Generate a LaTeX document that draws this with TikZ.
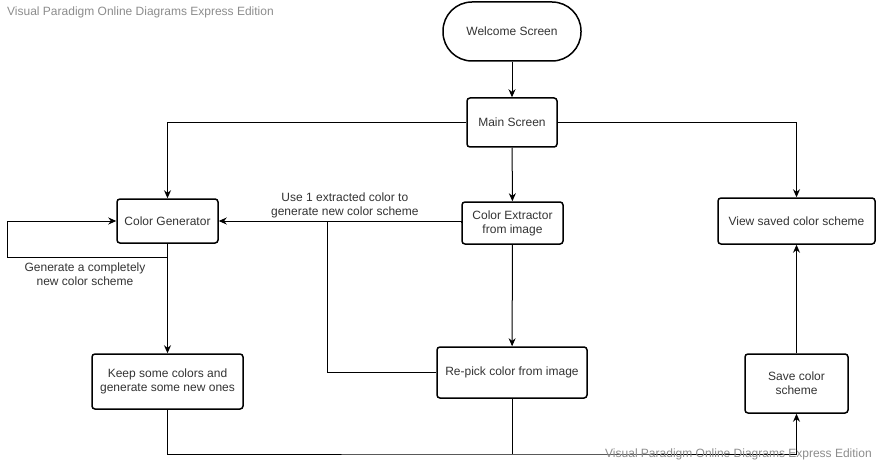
\documentclass[tikz,border=0pt]{standalone}
\usepackage{fontspec}
\setmainfont{Liberation Sans}
\usetikzlibrary{arrows.meta,positioning}
\tikzset{dbox/.style={draw, line width=1.5pt, rounded corners=3pt, align=center, inner sep=2pt, text=black!80}}
\tikzset{arr/.style={draw, line width=1pt, -{Stealth[length=8pt,width=7pt]}}}
\tikzset{ln/.style={draw, line width=1pt}}
\tikzset{lbl/.style={align=center, inner sep=0pt, text=black!80}}
\tikzset{wmark/.style={text=black!45, inner sep=0pt, anchor=west}}

\begin{document}
\begin{tikzpicture}[x=1pt, y=-1pt, every node/.style={font=\fontsize{12}{14}\selectfont}]
	\useasboundingbox (0,0) rectangle (877,465);
	% boxes
	\node[dbox, rounded corners=29pt, minimum width=138pt, minimum height=59pt] (welcome) at (512,31.5) {Welcome Screen};
	\node[dbox, minimum width=90pt, minimum height=49pt] (main) at (512,122.5) {Main Screen};
	\node[dbox, minimum width=101pt, minimum height=44pt] (colgen) at (167.5,221) {Color Generator};
	\node[dbox, minimum width=101pt, minimum height=42pt] (extract) at (512.5,223) {Color Extractor\\from image};
	\node[dbox, minimum width=157pt, minimum height=46pt] (view) at (796.5,221) {View saved color scheme};
	\node[dbox, minimum width=151pt, minimum height=55pt] (keep) at (167.5,381.5) {Keep some colors and\\generate some new ones};
	\node[dbox, minimum width=150pt, minimum height=51pt] (repick) at (512,372.5) {Re-pick color from image};
	\node[dbox, minimum width=103pt, minimum height=59pt] (save) at (796.5,383.5) {Save color\\scheme};
	% helper points
	\coordinate (loopc) at (7,257);
	\coordinate (joinc) at (327,222);
	\coordinate (busc) at (512,454);
	% connectors
	\draw[arr] (welcome) -- (main);
	\draw[arr] (main.west) -| (colgen.north);
	\draw[arr] (main.east) -| (view.north);
	\draw[arr] (main) -- (extract);
	\draw[arr] (extract.west) -- (colgen.east -| extract.west) -- (colgen.east)
	   node[lbl, above=3pt, pos=0.48] (uselbl) {Use 1 extracted color to\\generate new color scheme};
	\draw[arr] (colgen.south) |- (loopc) |- (colgen.west);
	\node[lbl] (looplbl) at (85,274) {Generate a completely\\new color scheme};
	\draw[arr] (colgen) -- (keep);
	\draw[arr] (extract) -- (repick);
	\draw[ln] (repick.west) -| (joinc);
	\draw[arr] (keep.south) |- (busc) -| (save.south);
	\draw[ln] (repick.south) -- (busc);
	\draw[arr] (save) -- (view);
	% watermarks
	\node[wmark] (wmtop) at (7,12) {Visual Paradigm Online Diagrams Express Edition};
	\node[wmark] (wmbot) at (605,454) {Visual Paradigm Online Diagrams Express Edition};
\end{tikzpicture}
\end{document}
